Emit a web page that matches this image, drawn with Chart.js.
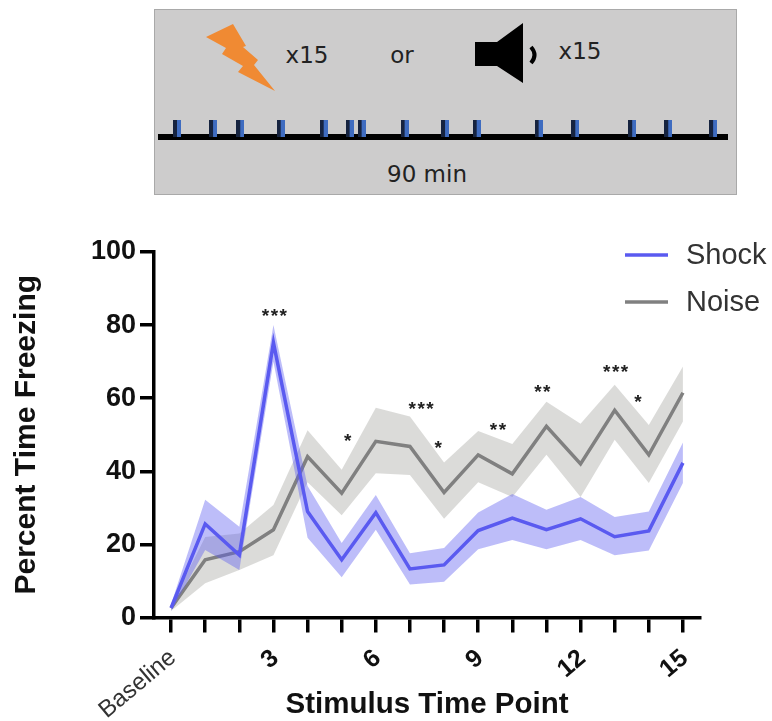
<!DOCTYPE html>
<html>
<head>
<meta charset="utf-8">
<script src="https://cdn.jsdelivr.net/npm/chart.js@4"></script>
<style>
  body { margin: 0; background: #fff; }
  #wrap { position: relative; width: 772px; height: 721px; overflow: hidden; filter: blur(0.5px); }
  #mainChart { position: absolute; left: 0; top: 0; }
  #panel { position: absolute; left: 154px; top: 9px; width: 581px; height: 184px; background: #cdcccc; border: 1px solid #a9a9a9; }
  #timeline { position: absolute; left: 148px; top: 110px; clip-path: inset(0 0 0 10px); }
  #icons { position: absolute; left: 0; top: 0; }
  .note { position: absolute; font: 23px "DejaVu Sans", sans-serif; color: #222; transform: translate(-50%, -50%); }
</style>
</head>
<body>
<div id="wrap">
  <canvas id="mainChart" width="772" height="721"></canvas>
  <div id="panel"></div>
  <svg id="icons" width="772" height="200">
    <polygon fill="#f08a33" points="206,37 233,24 246,46 243,47 258,60 254,65 275,91 238,72 243,66 222,54 226,48"/>
    <polygon fill="#000" points="475,42 497,42 523,23 523,83 497,66 475,66"/>
    <path fill="none" stroke="#000" stroke-width="4" d="M531,47 Q538,55 531,63"/>
  </svg>
  <canvas id="timeline" width="589" height="37"></canvas>
  <span class="note" style="left:307px;top:55px">x15</span>
  <span class="note" style="left:402px;top:55px">or</span>
  <span class="note" style="left:580px;top:51px">x15</span>
  <span class="note" style="left:427px;top:174px">90 min</span>
</div>
<script>
const xLabels = ['Baseline','','','3','','','6','','','9','','','12','','','15'];
const yTicks = [0,20,40,60,80,100];

const shockMean  = [2.6,25.6,17.1,75.2,29,15.8,28.7,13.3,14.4,23.8,27.2,24,27,22.1,23.7,42.3];
const shockUpper = [3.6,32.2,24.8,80,36,20.4,33.5,17.6,19,28.7,33.8,29.5,33,27.5,29,47.9];
const shockLower = [1.8,18.5,13,70,21.8,11,24,9,9.8,18.7,21.2,18.7,21.2,17,18.3,36.8];

const noiseMean  = [2.6,15.8,18,24,44,34,48.2,46.8,34.2,44.5,39.3,52.3,42,56.7,44.5,61.5];
const noiseUpper = [3.4,22,23,30.8,51.2,40.4,57.4,55,42.4,51,47.5,59,53,63.7,52.7,68.7];
const noiseLower = [1.8,9.4,13,17,37,28,39.5,39,27,37,33,44.5,33,48.6,36.8,53.6];

// significance stars: x on the time point scale, y on the percent scale
const starText = ['***','*','***','*','**','**','***','*'];
const starX = [3.05,5.2,7.35,7.85,9.6,10.9,13.05,13.7];
const starY = [83,48.9,57.7,47,52,62.3,67.8,59.6];

const legendNames = ['Shock','Noise'];
const legendColors = ['#5a5af0','#808080'];

// stimulus onsets in the 90 min session
const stimMinutes = [3,8.7,13,19.4,26.2,30.3,32.2,39,45.4,50.4,60.2,66,75,80.7,87.8];

function toPoints(values) {
    return values.map(function(v, i) { return {x: i, y: v}; });
}

function lineSet(label, values, color) {
    return {label: label, data: toPoints(values), borderColor: color, borderWidth: 3.5,
        pointRadius: 0, fill: false, tension: 0};
}

function bandSet(label, values, fill, color) {
    return {label: label, data: toPoints(values), borderWidth: 0, pointRadius: 0,
        fill: fill, backgroundColor: color, tension: 0};
}

function isBaseline(c) {
    return c.tick && c.tick.value === 0;
}

const notesPlugin = {
    id: 'notes',
    afterDraw(chart) {
        const ctx = chart.ctx;
        const xs = chart.scales.x, ys = chart.scales.y;
        ctx.save();
        ctx.textAlign = 'center';
        ctx.textBaseline = 'middle';
        ctx.fillStyle = '#222';
        ctx.font = 'bold 19px "Liberation Sans"';
        ctx.letterSpacing = '1.5px';
        starText.forEach(function(t, i) {
            ctx.fillText(t, xs.getPixelForValue(starX[i]), ys.getPixelForValue(starY[i]) + 3);
        });
        ctx.letterSpacing = '0px';
        // legend hangs out past the plot area
        ctx.textAlign = 'left';
        ctx.font = '29px "Liberation Sans"';
        legendNames.forEach(function(name, i) {
            const y = 255 + i * 47;
            ctx.strokeStyle = legendColors[i];
            ctx.lineWidth = 3.5;
            ctx.beginPath();
            ctx.moveTo(625, y);
            ctx.lineTo(668, y);
            ctx.stroke();
            ctx.fillStyle = '#333';
            ctx.fillText(name, 686, y + 1);
        });
        ctx.restore();
    }
};

new Chart(document.getElementById('mainChart'), {
    type: 'line',
    data: {
        datasets: [
            lineSet('Shock', shockMean, '#5a5af0'),
            bandSet('Shock upper', shockUpper, '+1', 'rgba(90,90,240,0.4)'),
            bandSet('Shock lower', shockLower, false, 'rgba(90,90,240,0.4)'),
            lineSet('Noise', noiseMean, '#808080'),
            bandSet('Noise upper', noiseUpper, '+1', 'rgba(190,190,186,0.55)'),
            bandSet('Noise lower', noiseLower, false, 'rgba(190,190,186,0.55)')
        ]
    },
    options: {
        responsive: false,
        animation: false,
        layout: {padding: {top: 252, right: 72}},
        plugins: {legend: {display: false}, tooltip: {enabled: false}},
        scales: {
            x: {
                type: 'linear',
                min: -0.5,
                max: 15.5,
                afterFit(scale) { scale.height = 103.5; },
                afterBuildTicks(scale) {
                    scale.ticks = xLabels.map(function(_, i) { return {value: i}; });
                },
                border: {color: '#000', width: 3.5},
                grid: {drawOnChartArea: false, color: '#000', lineWidth: 3.5, tickLength: 15},
                ticks: {
                    autoSkip: false,
                    minRotation: 40,
                    maxRotation: 40,
                    padding: 11,
                    labelOffset: 2,
                    callback: function(value) { return xLabels[value]; },
                    color: function(c) { return isBaseline(c) ? '#333' : '#111'; },
                    font: function(c) {
                        return isBaseline(c)
                            ? {family: '"Liberation Sans"', size: 24}
                            : {family: '"Liberation Sans"', size: 25, weight: 'bold'};
                    }
                },
                title: {
                    display: true,
                    text: 'Stimulus Time Point',
                    color: '#111',
                    padding: {top: 0, bottom: -2},
                    font: {family: '"Liberation Sans"', size: 29.5, weight: 'bold'}
                }
            },
            y: {
                min: 0,
                max: 100,
                afterFit(scale) { scale.width = 154; },
                afterBuildTicks(scale) {
                    scale.ticks = yTicks.map(function(v) { return {value: v}; });
                },
                border: {color: '#000', width: 3.5},
                grid: {drawOnChartArea: false, color: '#000', lineWidth: 3.5, tickLength: 14},
                ticks: {padding: 4, color: '#111', font: {family: '"Liberation Sans"', size: 27, weight: 'bold'}},
                title: {
                    display: true,
                    text: 'Percent Time Freezing',
                    color: '#111',
                    padding: {top: 9, bottom: 0},
                    font: {family: '"Liberation Sans"', size: 30, weight: 'bold'}
                }
            }
        }
    },
    plugins: [notesPlugin]
});

// two tone stimulus marker, dark on the left and blue on the right
const marker = document.createElement('canvas');
marker.width = 8;
marker.height = 18;
const mctx = marker.getContext('2d');
mctx.fillStyle = '#16233f';
mctx.fillRect(0, 0, 4, 18);
mctx.fillStyle = '#3f6cc0';
mctx.fillRect(4, 0, 4, 18);

new Chart(document.getElementById('timeline'), {
    type: 'scatter',
    data: {
        datasets: [{
            label: 'Stimulus',
            data: stimMinutes.map(function(m) { return {x: m, y: 0.5}; }),
            pointStyle: marker,
            pointRadius: 9
        }]
    },
    options: {
        responsive: false,
        animation: false,
        layout: {padding: {left: 4, right: 6, top: 8, bottom: 0}},
        plugins: {legend: {display: false}, tooltip: {enabled: false}},
        scales: {
            x: {
                type: 'linear',
                min: 0,
                max: 90,
                afterFit(scale) { scale.height = 6; },
                border: {color: '#000', width: 6},
                grid: {display: false},
                ticks: {display: false}
            },
            y: {min: 0, max: 1, display: false}
        }
    }
});
</script>
</body>
</html>
